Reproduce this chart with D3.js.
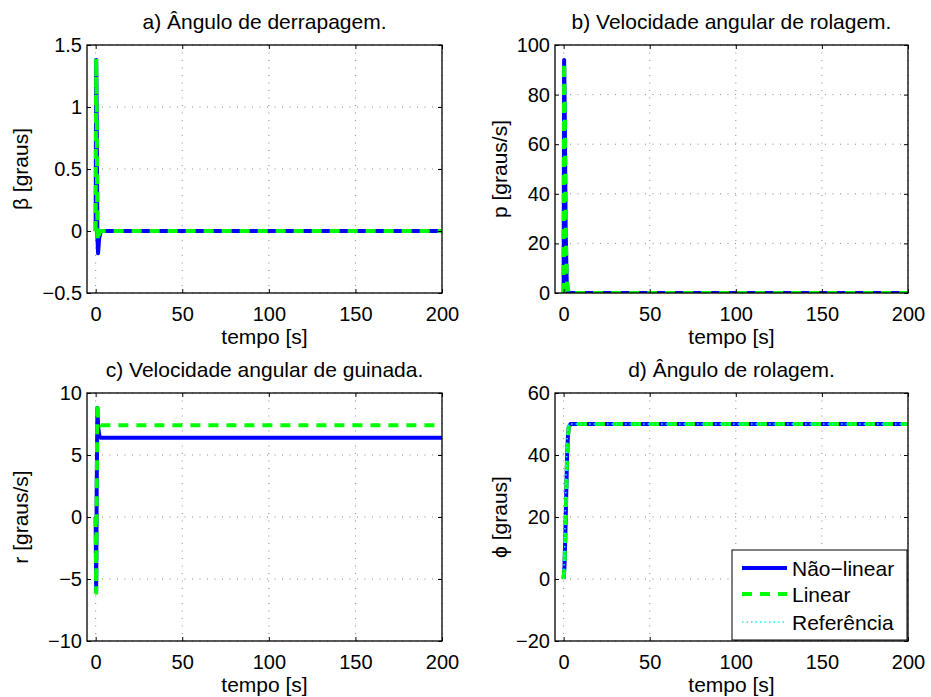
<!DOCTYPE html>
<html>
<head>
<meta charset="utf-8">
<script src="https://cdn.jsdelivr.net/npm/d3@7"></script>
<style>
  html, body { margin: 0; padding: 0; background: #fff; }
  svg text { font-family: "Liberation Sans", Arial, Helvetica, sans-serif; fill: #000; }
</style>
</head>
<body>
<svg id="fig" width="931" height="697"></svg>
<script>
// Shared x axis (time, s)
const xDomain = [-5, 200];
const xTicks = [0, 50, 100, 150, 200];

// a) sideslip angle
const tBeta   = [0, 0.3, 0.6, 1.0, 1.4, 2.0, 3.0, 200];
const betaNL  = [0, 1.38, 0.9, -0.05, -0.18, -0.06, 0, 0];
const betaLin = [0, 1.39, 0.95, 0.0, -0.08, -0.02, 0, 0];
const betaTicks = [-0.5, 0, 0.5, 1, 1.5];

// b) roll rate
const tP   = [0, 0.3, 0.7, 1.2, 1.8, 2.5, 3.0, 200];
const pNL  = [0, 94, 70, 25, 5, 0, 0, 0];
const pLin = [0, 93, 72, 28, 6, 0.5, 0, 0];
const pTicks = [0, 20, 40, 60, 80, 100];

// c) yaw rate
const tR   = [0, 0.3, 0.6, 1.0, 1.5, 2.2, 3.0, 200];
const rNL  = [0, -6.0, 2, 8.8, 7.2, 6.5, 6.4, 6.4];
const rLin = [0, -6.1, 2, 9.2, 8.0, 7.5, 7.4, 7.4];
const rTicks = [-10, -5, 0, 5, 10];

// d) roll angle
const tPhi   = [0, 0.5, 1.0, 1.5, 2.0, 2.5, 3.0, 4.0, 200];
const phiNL  = [0, 4, 14, 27, 39, 46, 49, 50, 50];
const phiLin = [0, 4, 14, 27, 39, 46, 49, 50, 50];
const phiRef = [0, 8, 22, 36, 45, 49, 50, 50, 50];
const phiTicks = [-20, 0, 20, 40, 60];

const legendLabels = ["Não\u2212linear", "Linear", "Referência"];

const styles = {
  nl:  { stroke: "#0000ff", width: 4, dash: null },
  lin: { stroke: "#00ff00", width: 4, dash: "10,8" },
  ref: { stroke: "#00ffff", width: 1.5, dash: "1.5,3" }
};

const minusFmt = v => v < 0 ? "\u2212" + Math.abs(v) : String(v);

const panels = [
  { id: "a", title: "a) Ângulo de derrapagem.", ylabel: "\u03b2 [graus]",
    x0: 87, x1: 442, y0: 45, y1: 293, yDomain: [-0.5, 1.5], yTicks: betaTicks,
    yFmt: minusFmt, labelX: 21,
    series: [[tBeta, betaNL, "nl"], [tBeta, betaLin, "lin"]] },
  { id: "b", title: "b) Velocidade angular de rolagem.", ylabel: "p [graus/s]",
    x0: 555, x1: 908, y0: 45, y1: 293, yDomain: [0, 100], yTicks: pTicks,
    yFmt: minusFmt, labelX: 500,
    series: [[tP, pNL, "nl"], [tP, pLin, "lin"]] },
  { id: "c", title: "c) Velocidade angular de guinada.", ylabel: "r [graus/s]",
    x0: 87, x1: 442, y0: 393, y1: 641, yDomain: [-10, 10], yTicks: rTicks,
    yFmt: minusFmt, labelX: 21,
    series: [[tR, rNL, "nl"], [tR, rLin, "lin"]] },
  { id: "d", title: "d) Ângulo de rolagem.", ylabel: "\u03d5 [graus]",
    x0: 555, x1: 908, y0: 393, y1: 641, yDomain: [-20, 60], yTicks: phiTicks,
    yFmt: minusFmt, labelX: 500,
    series: [[tPhi, phiNL, "nl"], [tPhi, phiLin, "lin"], [tPhi, phiRef, "ref"]] }
];

const svg = d3.select("#fig");
const defs = svg.append("defs");

panels.forEach(p => {
  const x = d3.scaleLinear().domain(xDomain).range([p.x0, p.x1]);
  const y = d3.scaleLinear().domain(p.yDomain).range([p.y1, p.y0]);
  const g = svg.append("g");

  // dotted grid
  g.selectAll(".gx").data(xTicks).join("line")
    .attr("x1", d => x(d)).attr("x2", d => x(d))
    .attr("y1", p.y0).attr("y2", p.y1)
    .attr("stroke", "#8a8a8a").attr("stroke-width", 1).attr("stroke-dasharray", "1,6.5");
  g.selectAll(".gy").data(p.yTicks).join("line")
    .attr("x1", p.x0).attr("x2", p.x1)
    .attr("y1", d => y(d)).attr("y2", d => y(d))
    .attr("stroke", "#8a8a8a").attr("stroke-width", 1).attr("stroke-dasharray", "1,6.5");

  // data lines, clipped to the axes box
  defs.append("clipPath").attr("id", "clip-" + p.id)
    .append("rect").attr("x", p.x0).attr("y", p.y0)
    .attr("width", p.x1 - p.x0).attr("height", p.y1 - p.y0);
  const plot = g.append("g").attr("clip-path", `url(#clip-${p.id})`);
  const line = d3.line().x(d => x(d[0])).y(d => y(d[1]));
  p.series.forEach(([ts, vs, key]) => {
    const s = styles[key];
    plot.append("path")
      .attr("d", line(ts.map((t, i) => [t, vs[i]])))
      .attr("fill", "none").attr("stroke", s.stroke).attr("stroke-width", s.width)
      .attr("stroke-linejoin", "round")
      .attr("stroke-dasharray", s.dash);
  });

  // axes with inward ticks on all four sides
  const tl = 4;
  g.append("g").attr("transform", `translate(0,${p.y1})`)
    .call(d3.axisBottom(x).tickValues(xTicks).tickSize(-tl).tickPadding(14).tickFormat(d3.format("d")))
    .call(a => a.select(".domain").remove());
  g.append("g").attr("transform", `translate(0,${p.y0})`)
    .call(d3.axisTop(x).tickValues(xTicks).tickSize(-tl).tickFormat(""))
    .call(a => a.select(".domain").remove());
  g.append("g").attr("transform", `translate(${p.x0},0)`)
    .call(d3.axisLeft(y).tickValues(p.yTicks).tickSize(-tl).tickPadding(5).tickFormat(p.yFmt))
    .call(a => a.select(".domain").remove());
  g.append("g").attr("transform", `translate(${p.x1},0)`)
    .call(d3.axisRight(y).tickValues(p.yTicks).tickSize(-tl).tickFormat(""))
    .call(a => a.select(".domain").remove());
  g.selectAll(".tick line").attr("stroke", "#000").attr("stroke-width", 1);
  g.selectAll(".tick text").attr("font-size", 20).attr("fill", "#000")
    .attr("font-family", "'Liberation Sans', Arial, sans-serif");

  g.append("rect").attr("x", p.x0).attr("y", p.y0)
    .attr("width", p.x1 - p.x0).attr("height", p.y1 - p.y0)
    .attr("fill", "none").attr("stroke", "#000").attr("stroke-width", 1.3);

  // title and axis labels
  g.append("text").attr("x", (p.x0 + p.x1) / 2).attr("y", p.y0 - 16)
    .attr("text-anchor", "middle").attr("font-size", 21).text(p.title);
  g.append("text").attr("x", (p.x0 + p.x1) / 2).attr("y", p.y1 + 51)
    .attr("text-anchor", "middle").attr("font-size", 21).text("tempo [s]");
  g.append("text")
    .attr("transform", `translate(${p.labelX + 7},${(p.y0 + p.y1) / 2}) rotate(-90)`)
    .attr("text-anchor", "middle").attr("font-size", 21).text(p.ylabel);
});

// legend in panel d
const lg = svg.append("g");
lg.append("rect").attr("x", 732).attr("y", 550).attr("width", 175).attr("height", 90)
  .attr("fill", "#fff").attr("stroke", "#000").attr("stroke-width", 1);
const legendKeys = ["nl", "lin", "ref"];
const legendY = [568, 594, 622];
legendKeys.forEach((k, i) => {
  const s = styles[k];
  lg.append("line").attr("x1", 742).attr("x2", 787)
    .attr("y1", legendY[i]).attr("y2", legendY[i])
    .attr("stroke", s.stroke).attr("stroke-width", s.width)
    .attr("stroke-dasharray", s.dash);
  lg.append("text").attr("x", 792).attr("y", legendY[i] + 7.5)
    .attr("font-size", 21).text(legendLabels[i]);
});
</script>
</body>
</html>
